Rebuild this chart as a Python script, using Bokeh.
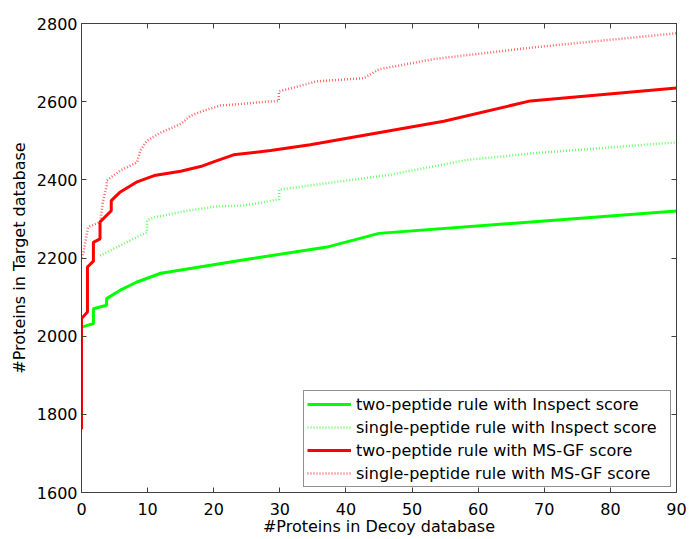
from bokeh.plotting import figure
from bokeh.models import Range1d, FixedTicker, LinearAxis
from bokeh.embed import file_html
from bokeh.resources import INLINE

# ---- data ----
x_ticks = [0, 10, 20, 30, 40, 50, 60, 70, 80, 90]
y_ticks = [1600, 1800, 2000, 2200, 2400, 2600, 2800]

# two-peptide rule with Inspect score
two_insp_x = [0, 1.8, 1.8, 3.8, 3.8, 5.8, 8.3, 12, 25.6, 37.4, 45, 90]
two_insp_y = [2023, 2032, 2070, 2079, 2096, 2117, 2138, 2161, 2198, 2229, 2263, 2320]

# single-peptide rule with Inspect score
one_insp_x = [2.8, 8.3, 9.9, 9.9, 11, 16, 20.5, 24, 25.6, 29.9, 29.9, 46.7, 58.3, 68.4, 90]
one_insp_y = [2206, 2253, 2266, 2296, 2304, 2321, 2332, 2334, 2337, 2350, 2375, 2413, 2451, 2468, 2496]

# two-peptide rule with MS-GF score
two_msgf_x = [0, 0, 0.9, 0.9, 1.8, 1.8, 2.8, 2.8, 4.5, 4.5, 5.8, 8.3, 11, 15, 18, 20.5,
              23, 28.6, 34.6, 54.8, 67.9, 90]
two_msgf_y = [1762, 2045, 2062, 2177, 2192, 2240, 2249, 2292, 2321, 2347, 2368, 2394, 2411,
              2422, 2434, 2449, 2464, 2475, 2490, 2550, 2602, 2635]

# single-peptide rule with MS-GF score
one_msgf_x = [0, 0.3, 1, 2.8, 2.9, 3.2, 3.8, 3.8, 5.9, 8.4, 8.9, 9.9, 12, 15, 16.5, 18.5,
              21, 24, 28, 29.85, 29.85, 35.6, 42.7, 45, 53.3, 68.4, 90]
one_msgf_y = [2200, 2215, 2279, 2292, 2300, 2340, 2385, 2398, 2424, 2445, 2475, 2500, 2521,
              2543, 2564, 2577, 2590, 2594, 2600, 2602, 2626, 2652, 2660, 2683, 2709, 2739, 2775]

labels = ["two-peptide rule with Inspect score",
          "single-peptide rule with Inspect score",
          "two-peptide rule with MS-GF score",
          "single-peptide rule with MS-GF score"]

FONT = "DejaVu Sans"
FS = "16px"
AX = "#404040"

p = figure(width=689, height=539, output_backend="svg", toolbar_location=None,
           x_range=Range1d(0, 90), y_range=Range1d(1600, 2800),
           min_border_left=81, min_border_right=13, min_border_top=23, min_border_bottom=47)
p.xgrid.visible = False
p.ygrid.visible = False
p.outline_line_color = AX
p.background_fill_color = "white"
p.border_fill_color = "white"

for ax, ticks in ((p.xaxis[0], x_ticks), (p.yaxis[0], y_ticks)):
    ax.ticker = FixedTicker(ticks=ticks)
    ax.major_tick_in = 5
    ax.major_tick_out = 0
    ax.minor_tick_line_color = None
    ax.axis_line_color = AX
    ax.major_tick_line_color = AX
    ax.major_label_text_font = FONT
    ax.major_label_text_font_size = FS
    ax.major_label_text_color = "black"
    ax.axis_label_text_font = FONT
    ax.axis_label_text_font_size = FS
    ax.axis_label_text_font_style = "normal"
    ax.axis_label_text_color = "black"

p.xaxis[0].major_label_standoff = 10
p.xaxis[0].axis_label = "#Proteins in Decoy database"
p.xaxis[0].axis_label_standoff = -1
p.yaxis[0].major_label_standoff = 4
p.yaxis[0].axis_label = "#Proteins in Target database"
p.yaxis[0].axis_label_standoff = 5

# box axes (top / right) with inward ticks, labels not drawn
top = LinearAxis(ticker=FixedTicker(ticks=x_ticks), major_tick_in=5, major_tick_out=0,
                 minor_tick_line_color=None, major_label_text_color=None,
                 major_label_text_font_size="1px",
                 major_label_standoff=0, axis_line_color=AX, major_tick_line_color=AX)
right = LinearAxis(ticker=FixedTicker(ticks=y_ticks), major_tick_in=5, major_tick_out=0,
                   minor_tick_line_color=None, major_label_text_color=None,
                   major_label_text_font_size="1px",
                   major_label_standoff=0, axis_line_color=AX, major_tick_line_color=AX)
p.add_layout(top, "above")
p.add_layout(right, "right")

p.line(two_insp_x, two_insp_y, line_color="#00ff00", line_width=3, legend_label=labels[0])
p.line(one_insp_x, one_insp_y, line_color="#00ff00", line_width=2.5, line_dash="1 2",
       line_alpha=0.6, legend_label=labels[1])
p.line(two_msgf_x, two_msgf_y, line_color="#ff0000", line_width=3, legend_label=labels[2])
p.line(one_msgf_x, one_msgf_y, line_color="#ff0000", line_width=2.5, line_dash="1 2",
       line_alpha=0.6, legend_label=labels[3])

lg = p.legend[0]
lg.location = "bottom_right"
lg.margin = 5
lg.padding = 3
lg.spacing = 3
lg.glyph_width = 44
lg.glyph_height = 20
lg.label_height = 20
lg.label_width = 311
lg.label_standoff = 5
lg.label_text_font = FONT
lg.label_text_font_size = FS
lg.label_text_color = "black"
lg.border_line_color = "#222222"
lg.border_line_width = 1
lg.background_fill_alpha = 1.0

open("out.html", "w").write(file_html(p, INLINE))
